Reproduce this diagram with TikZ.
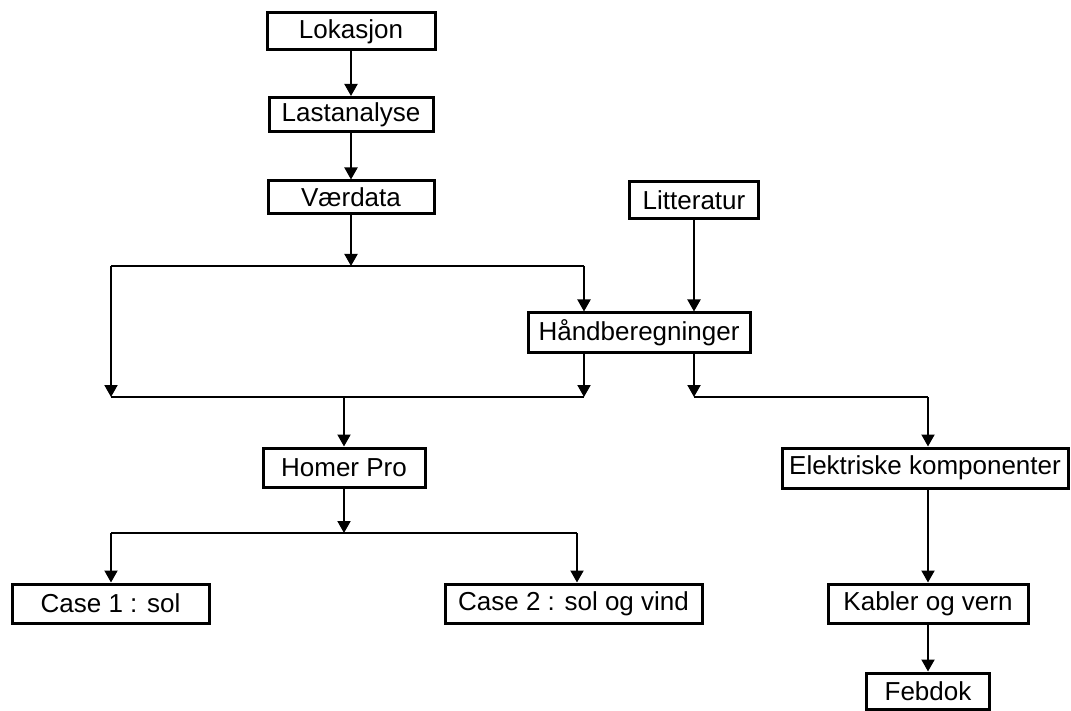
\documentclass[tikz,border=0pt]{standalone}
\usepackage{fontspec}
\setmainfont{Liberation Sans}
\usetikzlibrary{arrows.meta}
\begin{document}
\begin{tikzpicture}[x=1pt,y=-1pt,
 box/.style={draw,line width=3pt,inner sep=0pt,fill=white,font=\fontsize{26}{30}\selectfont},
 conn/.style={line width=2pt},
 arr/.style={conn,-{Triangle[width=13pt,length=12pt]}}]
\useasboundingbox (0,0) rectangle (1071,711);
\node[box,minimum width=168pt,minimum height=37pt] (lok) at (351,31.5) {Lokasjon};
\node[box,minimum width=164pt,minimum height=34pt] (last) at (351,114.5) {Lastanalyse};
\node[box,minimum width=166pt,minimum height=33pt] (vaer) at (351,197.5) {Værdata};
\node[box,minimum width=129pt,minimum height=37pt] (lit) at (694,200.5) {Litteratur};
\node[box,minimum width=222pt,minimum height=39pt] (hand) at (639,332.5) {Håndberegninger};
\node[box,minimum width=162pt,minimum height=39pt] (homer) at (344,467.5) {Homer Pro};
\node[box,minimum width=197pt,minimum height=39pt] (case1) at (110.5,603.5) {Case 1 : sol};
\node[box,minimum width=257pt,minimum height=39pt] (case2) at (573.5,603.5) {Case 2 : sol og vind};
\node[box,minimum width=286pt,minimum height=40pt] (elek) at (925,468) {Elektriske komponenter};
\node[box,minimum width=200pt,minimum height=39pt] (kab) at (928,603.5) {Kabler og vern};
\node[box,minimum width=123pt,minimum height=36pt] (feb) at (928,691) {Febdok};
\coordinate (uL) at (111,266); \coordinate (uR) at (584,266);
\coordinate (lL) at (111,397); \coordinate (lR) at (584,397);
\coordinate (lH) at (344,397);
\coordinate (rS) at (694,397); \coordinate (rE) at (928,397);
\coordinate (hJ) at (344,533); \coordinate (hL) at (111,533); \coordinate (hR) at (577,533);
\draw[arr] (lok.south) -- (lok.south |- last.north);
\draw[arr] (last.south) -- (last.south |- vaer.north);
\draw[arr] (vaer.south) -- (vaer.south |- uL);
\draw[conn] (uL) -- (uR);
\draw[arr] (uL) -- (lL);
\draw[arr] (uR) -- (uR |- hand.north);
\draw[arr] (lit.south) -- (lit.south |- hand.north);
\draw[arr] (hand.south -| lR) -- (lR);
\draw[conn] (lL) -- (lR);
\draw[arr] (lH) -- (homer.north);
\draw[arr] (hand.south -| rS) -- (rS);
\draw[conn] (rS) -- (rE);
\draw[arr] (rE) -- (rE |- elek.north);
\draw[arr] (homer.south) -- (hJ);
\draw[conn] (hL) -- (hR);
\draw[arr] (hL) -- (hL |- case1.north);
\draw[arr] (hR) -- (hR |- case2.north);
\draw[arr] (elek.south -| kab.north) -- (kab.north);
\draw[arr] (kab.south) -- (feb.north);
\end{tikzpicture}
\end{document}
